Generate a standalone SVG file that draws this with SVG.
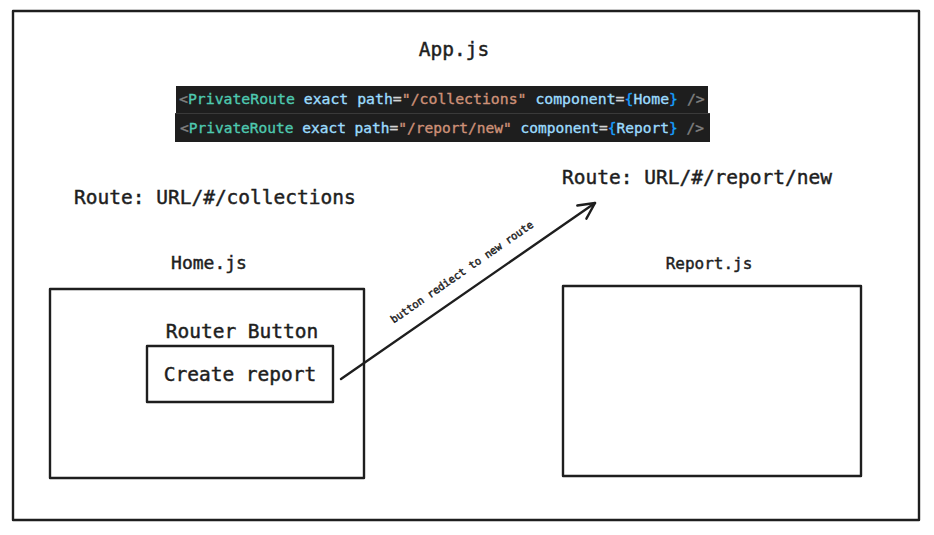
<svg xmlns="http://www.w3.org/2000/svg" width="934" height="535" viewBox="0 0 934 535">
<defs>
<style>
.box{fill:none;stroke:#1e1e1e;stroke-width:2.4;stroke-linejoin:round}
.t{font-family:"DejaVu Sans Mono","Liberation Mono",monospace;fill:#1e1e1e;stroke:#1e1e1e;stroke-width:0.45}
.code{font-family:"DejaVu Sans Mono","Liberation Mono",monospace;stroke-width:0.35}
.g{fill:#808080;stroke:#808080}.tag{fill:#4ec9b0;stroke:#4ec9b0}.at{fill:#9cdcfe;stroke:#9cdcfe}.op{fill:#d4d4d4;stroke:#d4d4d4}.str{fill:#ce9178;stroke:#ce9178}.br{fill:#179fff;stroke:#179fff}
</style>
<marker id="arr" markerWidth="24" markerHeight="24" refX="20" refY="12" orient="auto" markerUnits="userSpaceOnUse">
<path d="M4 4 L20 12 L4 20" fill="none" stroke="#1e1e1e" stroke-width="2.4" stroke-linecap="round" stroke-linejoin="round"/>
</marker>
</defs>
<rect width="934" height="535" fill="#fff"/>
<g id="app">
<rect class="box" x="13" y="11" width="906" height="509"/>
<text class="t" x="454" y="56" font-size="19.5" text-anchor="middle">App.js</text>
</g>
<g id="code">
<rect x="176" y="86" width="532" height="27" fill="#1e1e1e"/>
<rect x="175" y="114" width="535" height="28" fill="#1e1e1e"/>
<line x1="175" y1="113.5" x2="710" y2="113.5" stroke="#3a3a3a" stroke-width="1"/>
<text class="code" x="179" y="104" font-size="14.8"><tspan class="g">&lt;</tspan><tspan class="tag">PrivateRoute</tspan><tspan class="at"> exact path</tspan><tspan class="op">=</tspan><tspan class="str">"/collections"</tspan><tspan class="at"> component</tspan><tspan class="op">=</tspan><tspan class="br">{</tspan><tspan class="at">Home</tspan><tspan class="br">}</tspan><tspan class="g"> /&gt;</tspan></text>
<text class="code" x="180" y="133" font-size="14.5"><tspan class="g">&lt;</tspan><tspan class="tag">PrivateRoute</tspan><tspan class="at"> exact path</tspan><tspan class="op">=</tspan><tspan class="str">"/report/new"</tspan><tspan class="at"> component</tspan><tspan class="op">=</tspan><tspan class="br">{</tspan><tspan class="at">Report</tspan><tspan class="br">}</tspan><tspan class="g"> /&gt;</tspan></text>
</g>
<g id="route-collections">
<text class="t" x="74" y="204" font-size="19.5">Route: URL/#/collections</text>
</g>
<g id="route-report">
<text class="t" x="562" y="184" font-size="19.5">Route: URL/#/report/new</text>
</g>
<g id="home">
<text class="t" x="209" y="269" font-size="18" text-anchor="middle">Home.js</text>
<rect class="box" x="50" y="289" width="314" height="189"/>
<text class="t" x="242" y="338" font-size="19.5" text-anchor="middle">Router Button</text>
</g>
<g id="button">
<rect class="box" x="147" y="346" width="186" height="56"/>
<text class="t" x="240" y="381" font-size="19.5" text-anchor="middle">Create report</text>
</g>
<g id="report">
<text class="t" x="709" y="269" font-size="16" text-anchor="middle">Report.js</text>
<rect class="box" x="563" y="286" width="298" height="190"/>
</g>
<g id="connectors">
<path d="M341 379 L595 203" fill="none" stroke="#1e1e1e" stroke-width="2.4" stroke-linecap="round" marker-end="url(#arr)"/>
<text class="t" font-size="10.5" text-anchor="middle" stroke-width="0.3" transform="translate(464 275) rotate(-34.7)">button rediect to new route</text>
</g>
</svg>
